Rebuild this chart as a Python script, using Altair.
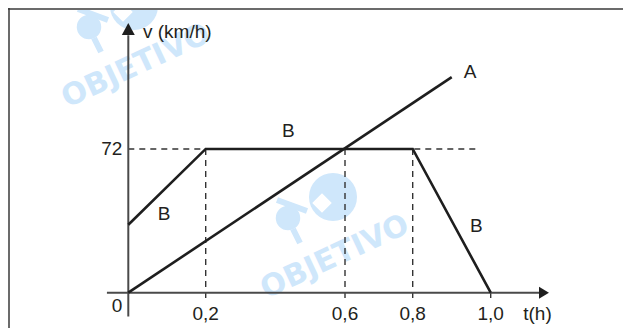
import altair as alt
import pandas as pd

# ---- data ----
t_A = [0.0, 0.9]
v_A = [0, 108]
t_B = [0.0, 0.2, 0.8, 1.0]
v_B = [34, 72, 72, 0]
tick_t = [0.2, 0.6, 0.8, 1.0]
tick_labels = ["0,2", "0,6", "0,8", "1,0"]
v_mark = 72
guide_t = [0.2, 0.6, 0.8]
series_labels = ["A", "B", "B", "B"]
label_t = [0.947, 0.437, 0.0925, 0.963]
label_v = [110.6, 81, 39.4, 33.4]

W, H = 615, 320
# the printed time axis is hand-drawn: calibrate the scale on its printed ticks
xs = alt.Scale(domain=[-0.332, 0.0, 0.2, 0.6, 0.8, 1.0, 1.365],
               range=[0, 120.3, 197.7, 337, 404.7, 482.7, 615], nice=False, zero=False)
ys = alt.Scale(domain=[-17.7, 142.6], nice=False, zero=False)
FONT = "Liberation Sans"
INK = "#1e1e1e"
AX = "#4a4a4a"
WM = "#cfe7fb"


def X(f="t"):
    return alt.X(f"{f}:Q", scale=xs, axis=None)


def Y(f="v"):
    return alt.Y(f"{f}:Q", scale=ys, axis=None)


one = pd.DataFrame({"a": [0]})

# ---- watermark (decoration) ----
wm_layers = []
for cx, cy in [(128, 58), (327, 249)]:
    wm_layers += [
        alt.Chart(one).mark_text(text="OBJETIVO", font="DejaVu Sans", fontWeight="bold",
                                 fontSize=30, angle=335, color=WM)
        .encode(x=alt.value(cx), y=alt.value(cy)),
        alt.Chart(one).mark_point(shape="circle", filled=True, size=2304, color=WM, opacity=1)
        .encode(x=alt.value(cx - 2), y=alt.value(cy - 60)),
        alt.Chart(one).mark_point(shape="diamond", filled=True, size=380, color="white", opacity=1)
        .encode(x=alt.value(cx - 13), y=alt.value(cy - 54)),
        alt.Chart(one).mark_point(shape="circle", filled=True, size=600, color=WM, opacity=1)
        .encode(x=alt.value(cx - 47), y=alt.value(cy - 39)),
        alt.Chart(one).mark_rule(color=WM, strokeWidth=6)
        .encode(x=alt.value(cx - 58), y=alt.value(cy - 57), x2=alt.value(cx - 28), y2=alt.value(cy - 46)),
        alt.Chart(one).mark_rule(color=WM, strokeWidth=6)
        .encode(x=alt.value(cx - 42), y=alt.value(cy - 28), x2=alt.value(cx - 35), y2=alt.value(cy - 14)),
    ]

# ---- frame ----
frame = [
    alt.Chart(one).mark_rule(color="#6b6b6b", strokeWidth=2)
    .encode(x=alt.value(0), x2=alt.value(W), y=alt.value(1)),
    alt.Chart(one).mark_rule(color="#3a3a3a", strokeWidth=1.5)
    .encode(x=alt.value(1), y=alt.value(0), y2=alt.value(H)),
]

# ---- axes ----
axes_df = pd.DataFrame({"t": [-0.059, 0.0], "v": [0, -12.0], "t2": [1.136, 0.0], "v2": [0, 129.0]})
axes = alt.Chart(axes_df).mark_rule(color=AX, strokeWidth=2).encode(
    x=X(), y=Y(), x2="t2:Q", y2="v2:Q")

arrow_x = alt.Chart(pd.DataFrame({"t": [1.147], "v": [0]})).mark_point(
    shape="M0.83,0 L-0.83,-1 L-0.83,1 Z", filled=True, size=144, color=INK, opacity=1
).encode(x=X(), y=Y())
arrow_y = alt.Chart(pd.DataFrame({"t": [0.0], "v": [132.1]})).mark_point(
    shape="M0,-1 L1.08,1 L-1.08,1 Z", filled=True, size=144, color=INK, opacity=1
).encode(x=X(), y=Y())

# ---- dashed guides ----
hguide = alt.Chart(pd.DataFrame({"t": [0.0], "t2": [0.967], "v": [v_mark]})).mark_rule(
    color="#333333", strokeWidth=1.4, strokeDash=[6, 5]
).encode(x=X(), x2="t2:Q", y=Y())
vguide = alt.Chart(pd.DataFrame({"t": guide_t, "v": [v_mark] * 3, "v2": [-2.7] * 3})).mark_rule(
    color="#333333", strokeWidth=1.4, strokeDash=[6, 5]
).encode(x=X(), y=Y(), y2="v2:Q")
tick10 = alt.Chart(pd.DataFrame({"t": [1.0], "v": [0], "v2": [-2.7]})).mark_rule(
    color="#333333", strokeWidth=1.4
).encode(x=X(), y=Y(), y2="v2:Q")

# ---- series ----
dfA = pd.DataFrame({"t": t_A, "v": v_A, "o": range(len(t_A))})
dfB = pd.DataFrame({"t": t_B, "v": v_B, "o": range(len(t_B))})
lineA = alt.Chart(dfA).mark_line(color=INK, strokeWidth=2.6).encode(x=X(), y=Y(), order="o:Q")
lineB = alt.Chart(dfB).mark_line(color=INK, strokeWidth=2.6, strokeJoin="miter").encode(
    x=X(), y=Y(), order="o:Q")

# ---- texts ----
txt = dict(font=FONT, fontSize=19, color="#231f20")
ticklab = alt.Chart(pd.DataFrame({"t": tick_t, "v": [0] * 4, "lab": tick_labels})).mark_text(
    baseline="middle", align="center", dy=21, **txt).encode(x=X(), y=Y(), text="lab:N")
tlab = alt.Chart(pd.DataFrame({"t": [1.129], "v": [0], "lab": ["t(h)"]})).mark_text(
    baseline="middle", align="center", dy=21, **txt).encode(x=X(), y=Y(), text="lab:N")
zero = alt.Chart(pd.DataFrame({"t": [0.0], "v": [0], "lab": ["0"]})).mark_text(
    baseline="middle", align="right", dx=-6, dy=13, **txt).encode(x=X(), y=Y(), text="lab:N")
v72 = alt.Chart(pd.DataFrame({"t": [0.0], "v": [v_mark], "lab": [str(v_mark)]})).mark_text(
    baseline="middle", align="right", dx=-6, **txt).encode(x=X(), y=Y(), text="lab:N")
vtitle = alt.Chart(pd.DataFrame({"t": [0.038], "v": [130.6], "lab": ["v (km/h)"]})).mark_text(
    baseline="middle", align="left", **txt).encode(x=X(), y=Y(), text="lab:N")
serlab = alt.Chart(pd.DataFrame({"t": label_t, "v": label_v, "lab": series_labels})).mark_text(
    baseline="middle", align="center", **txt).encode(x=X(), y=Y(), text="lab:N")

chart = alt.layer(
    *wm_layers, *frame, hguide, vguide, tick10, axes, arrow_x, arrow_y,
    lineA, lineB, ticklab, tlab, zero, v72, vtitle, serlab
).properties(
    width=W, height=H,
    autosize=alt.AutoSizeParams(type="none"),
    padding={"left": 0, "top": 0, "right": 0, "bottom": 0},
    background="white",
).configure_view(strokeWidth=0)

chart.save("out.html", embed_options={"renderer": "svg", "actions": False})
